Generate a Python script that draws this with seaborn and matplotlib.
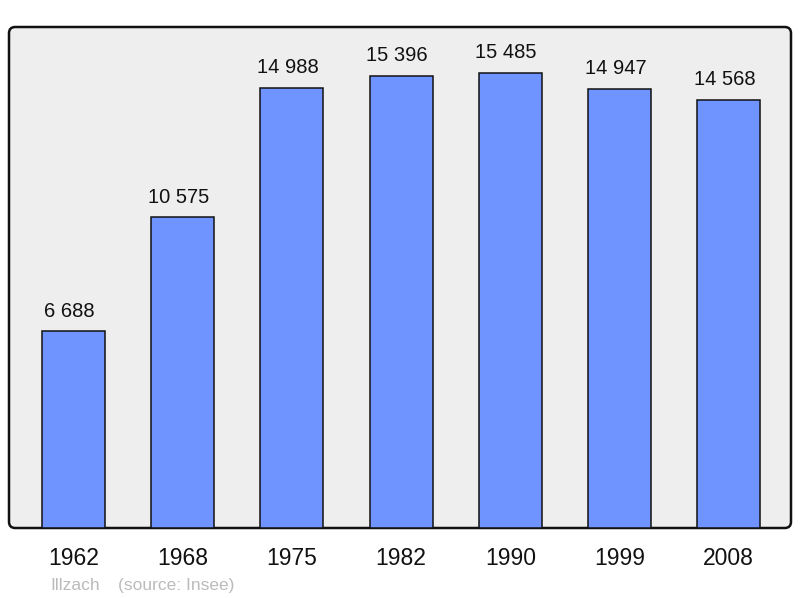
import matplotlib
matplotlib.use("Agg")
import matplotlib.pyplot as plt
import seaborn as sns
import pandas as pd
from matplotlib.patches import FancyBboxPatch

years = ["1962", "1968", "1975", "1982", "1990", "1999", "2008"]
population = [6688, 10575, 14988, 15396, 15485, 14947, 14568]
labels = ["6 688", "10 575", "14 988", "15 396", "15 485", "14 947", "14 568"]
town = "Illzach"
source = "(source: Insee)"


def main():
    sns.set_theme(style="white")
    plt.rcParams["font.family"] = ["Liberation Sans", "DejaVu Sans"]

    df = pd.DataFrame({"year": years, "pop": population})

    fig = plt.figure(figsize=(8, 5.98), dpi=100)
    ax = fig.add_axes([9 / 800, 1 - 528 / 598, 782 / 800, 501 / 598])
    ax.set_facecolor("none")

    # rounded background frame
    frame = FancyBboxPatch((0, 0), 1, 1, boxstyle="round,pad=0,rounding_size=0.008",
                           transform=ax.transAxes, facecolor="#eeeeee",
                           edgecolor="#111111", linewidth=1.8, zorder=0,
                           clip_on=False, mutation_aspect=782 / 501)
    ax.add_patch(frame)

    sns.barplot(data=df, x="year", y="pop", color="#7094ff", saturation=1,
                width=0.576, edgecolor="#111111", linewidth=1.1, ax=ax, zorder=2)

    # value labels sit a touch left of the bar centre, like the original
    for i, (v, lab) in enumerate(zip(population, labels)):
        ax.annotate(lab, (i, v), xytext=(-3, 10.5), textcoords="offset points",
                    ha="center", va="baseline", fontsize=14.5, color="#111111")

    ax.set_xlim(-0.59, 6.57)
    ax.set_ylim(0, 17050)
    ax.set_yticks([])
    ax.set_xlabel("")
    ax.set_ylabel("")
    ax.tick_params(axis="x", length=0, pad=14, labelsize=16.5, labelcolor="#111111")
    for s in ax.spines.values():
        s.set_visible(False)

    fig.text(50 / 800, 1 - 590 / 598, town, fontsize=12.5, color="#bbbbbb", ha="left", va="baseline")
    fig.text(118 / 800, 1 - 590 / 598, source, fontsize=12.5, color="#bbbbbb", ha="left", va="baseline")

    fig.savefig("out.png", dpi=100)
    plt.close(fig)


if __name__ == "__main__":
    main()
